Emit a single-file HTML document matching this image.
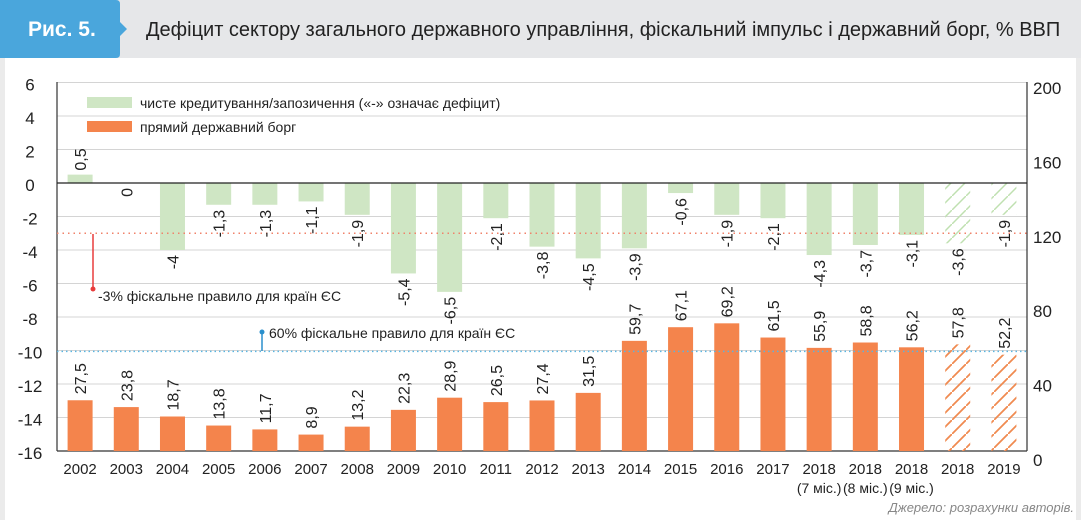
<!DOCTYPE html>
<html><head><meta charset="utf-8"><style>
body{margin:0;width:1081px;height:520px;overflow:hidden;background:#fff;font-family:"Liberation Sans",sans-serif}
</style></head><body>
<svg id="c" width="1081" height="520" xmlns="http://www.w3.org/2000/svg" font-family="Liberation Sans, sans-serif">
<defs>
<pattern id="hg" width="14" height="14" patternUnits="userSpaceOnUse"><path d="M-2,16 L16,-2" stroke="#bfe0b0" stroke-width="1.5"/></pattern>
<pattern id="ho" width="14" height="14" patternUnits="userSpaceOnUse"><path d="M-2,16 L16,-2" stroke="#f08a50" stroke-width="1.8"/></pattern>
</defs>
<rect x="0" y="0" width="1081" height="58" fill="#e6e7e9"/>
<rect x="0" y="58" width="1081" height="462" fill="#ebebeb"/>
<rect x="5" y="58" width="1071" height="462" fill="#fff"/>
<path d="M0,0 H116 Q120,0 120,4 V22 L127,29 L120,36 V54 Q120,58 116,58 H0 Z" fill="#4aa6dc"/>
<text x="28" y="36" font-size="21" font-weight="bold" fill="#fff">Рис. 5.</text>
<text x="146" y="36" font-size="20" fill="#222">Дефіцит сектору загального державного управління, фіскальний імпульс і державний борг, % ВВП</text>
<g id="grid"></g>
<g id="bars"></g>
<g id="labels"></g>
<text x="1074" y="512" font-size="13" font-style="italic" fill="#888" text-anchor="end">Джерело: розрахунки авторів.</text>
</svg>
<script>
const categories=["2002","2003","2004","2005","2006","2007","2008","2009","2010","2011","2012","2013","2014","2015","2016","2017","2018","2018","2018","2018","2019"];
const subLabels=["","","","","","","","","","","","","","","","","(7 міс.)","(8 міс.)","(9 міс.)","",""];
const balance=[0.5,0,-4,-1.3,-1.3,-1.1,-1.9,-5.4,-6.5,-2.1,-3.8,-4.5,-3.9,-0.6,-1.9,-2.1,-4.3,-3.7,-3.1,-3.6,-1.9];
const debt=[27.5,23.8,18.7,13.8,11.7,8.9,13.2,22.3,28.9,26.5,27.4,31.5,59.7,67.1,69.2,61.5,55.9,58.8,56.2,57.8,52.2];
const forecast=[false,false,false,false,false,false,false,false,false,false,false,false,false,false,false,false,false,false,false,true,true];
const leftTicks=[6,4,2,0,-2,-4,-6,-8,-10,-12,-14,-16];
const rightTicks=[200,160,120,80,40,0];
const fiscalRule=-3, debtRuleLine=54;

const NS="http://www.w3.org/2000/svg";
const X0=57,X1=1027,band=(X1-X0)/categories.length,bw=25;
const yL=v=>183-v*16.75;
const yR=v=>451-v*1.845;
const xC=i=>X0+band*(i+0.5);
function el(tag,attrs,parent,txt){const e=document.createElementNS(NS,tag);for(const k in attrs)e.setAttribute(k,attrs[k]);if(txt!==undefined)e.textContent=txt;document.getElementById(parent).appendChild(e);return e;}
leftTicks.forEach(t=>{
 if(t!==0 && t>-16){const g=el('line',{x1:X0,x2:X1,y1:yL(t),y2:yL(t),stroke:'#d4d4d4','stroke-width':1},'grid');
 
 }
 const l=el('text',{x:30,y:yL(t)+8,'font-size':17,fill:'#222','text-anchor':'middle'},'labels',String(t));
 
 
});
rightTicks.forEach(t=>{
 const l=el('text',{x:1033,y:466-t*1.86,'font-size':17,fill:'#222'},'labels',String(t));
 
 
});
let a=el('line',{x1:X0,x2:X0,y1:82,y2:451,stroke:'#333','stroke-width':1.2},'grid');


a=el('line',{x1:X1,x2:X1,y1:82,y2:451,stroke:'#333','stroke-width':1.2},'grid');


a=el('line',{x1:X0,x2:X1,y1:451,y2:451,stroke:'#333','stroke-width':1.2},'grid');


debt.forEach((v,i)=>{
 const b=el('rect',{x:xC(i)-bw/2,y:yR(v),width:bw,height:451-yR(v),fill:forecast[i]?'url(#ho)':'#f4844c'},'bars');
 
 
 const ty=yR(v)-6,tx=xC(i)+6;
 const t=el('text',{x:tx,y:ty,'font-size':16,fill:'#222',transform:`rotate(-90 ${tx} ${ty})`},'labels',String(v).replace('.',','));
 
 
});
balance.forEach((v,i)=>{
 const y0=Math.min(yL(0),yL(v)),h=Math.abs(yL(v)-yL(0));
 const b=el('rect',{x:xC(i)-bw/2,y:y0,width:bw,height:h,fill:forecast[i]?'url(#hg)':'#cfe6c4'},'bars');
 
 
 const tx=xC(i)+6;
 let ty,anchor;
 if(v>0){ty=yL(v)-4;anchor='start';}else{ty=yL(v)+5;anchor='end';}
 const t=el('text',{x:tx,y:ty,'font-size':16,fill:'#222','text-anchor':anchor,transform:`rotate(-90 ${tx} ${ty})`},'labels',String(v).replace('.',','));
 
 
 const c=el('text',{x:xC(i),y:474,'font-size':15,fill:'#222','text-anchor':'middle'},'labels',categories[i]);
 
 
 if(subLabels[i]){const s=el('text',{x:xC(i),y:493,'font-size':14,fill:'#222','text-anchor':'middle'},'labels',subLabels[i]);
 
 }
});
a=el('line',{x1:X0,x2:X1,y1:yL(0),y2:yL(0),stroke:'#222','stroke-width':1.3},'bars');


a=el('line',{x1:X0,x2:X1,y1:yL(fiscalRule),y2:yL(fiscalRule),stroke:'#f0826a','stroke-width':1.5,'stroke-dasharray':'1.5 4'},'bars');


a=el('line',{x1:X0,x2:X1,y1:yR(debtRuleLine),y2:yR(debtRuleLine),stroke:'#5ab4e0','stroke-width':1.5,'stroke-dasharray':'1.5 3'},'bars');


</script>
<svg width="1081" height="520" style="position:absolute;left:0;top:0" xmlns="http://www.w3.org/2000/svg" font-family="Liberation Sans, sans-serif">
<g>
<rect x="87" y="97" width="45" height="11" fill="#cfe6c4"/>
<text x="140" y="108" font-size="14" fill="#222">чисте кредитування/запозичення («-» означає дефіцит)</text>
<rect x="87" y="121" width="45" height="11" fill="#f4844c"/>
<text x="140" y="132" font-size="14" fill="#222">прямий державний борг</text>
</g>
<g>
<line x1="93" y1="234" x2="93" y2="289" stroke="#e83c3c" stroke-width="1.5"/>
<circle cx="93" cy="289" r="2.5" fill="#e83c3c"/>
<text x="98" y="301" font-size="14" fill="#222">-3% фіскальне правило для країн ЄС</text>
</g>
<g>
<line x1="262" y1="332" x2="262" y2="351" stroke="#2a8fcc" stroke-width="1.5"/>
<circle cx="262" cy="332" r="2.5" fill="#2a8fcc"/>
<text x="269" y="338" font-size="14" fill="#222">60% фіскальне правило для країн ЄС</text>
</g>
</svg>
</body></html>
